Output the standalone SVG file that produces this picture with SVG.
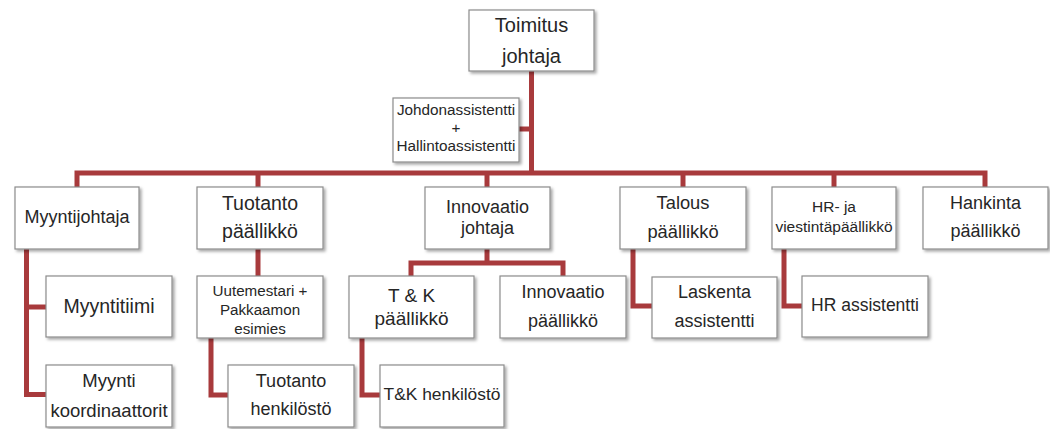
<svg xmlns="http://www.w3.org/2000/svg" width="1050" height="429" viewBox="0 0 1050 429">
<defs>
<filter id="sh" x="-10%" y="-10%" width="130%" height="140%">
<feDropShadow dx="2" dy="2" stdDeviation="1.5" flood-color="#000" flood-opacity="0.35"/>
</filter>
<style>
.box{fill:#fff;stroke:#8c8c8c;stroke-width:1.2;filter:url(#sh)}
.c{fill:none;stroke:#a83a3c;stroke-width:5;stroke-linejoin:miter;stroke-linecap:butt}
text{font-family:"Liberation Sans",Arial,sans-serif;fill:#262626;text-anchor:middle}
</style>
</defs>
<rect width="1050" height="429" fill="#fff"/>
<g id="connectors">
<path class="c" d="M531.5,71 V173"/>
<path class="c" d="M519,129 H531.5"/>
<path class="c" d="M77,187 V173 H985 V187"/>
<path class="c" d="M258,173 V187"/>
<path class="c" d="M487,173 V187"/>
<path class="c" d="M683,173 V187"/>
<path class="c" d="M834,173 V187"/>
<path class="c" d="M26.5,249 V394.5 H46"/>
<path class="c" d="M26.5,307 H46"/>
<path class="c" d="M258,249 V276"/>
<path class="c" d="M211,338 V395 H228"/>
<path class="c" d="M487,249 V263"/>
<path class="c" d="M411,276 V263 H563 V276"/>
<path class="c" d="M362,338 V395 H380"/>
<path class="c" d="M633,249 V306 H652"/>
<path class="c" d="M784,249 V306 H802"/>
</g>
<g id="toimitus">
<rect class="box" x="469" y="10" width="125" height="61"/>
<text x="531.5" y="32" font-size="20">Toimitus</text>
<text x="531.5" y="63" font-size="20">johtaja</text>
</g>
<g id="johdonassistentti">
<rect class="box" x="393" y="98" width="126" height="64"/>
<text x="456" y="115" font-size="15.3">Johdonassistentti</text>
<text x="456" y="133" font-size="15.3">+</text>
<text x="456" y="151" font-size="15.3">Hallintoassistentti</text>
</g>
<g id="myyntijohtaja">
<rect class="box" x="15" y="187" width="124" height="62"/>
<text x="77" y="223" font-size="18">Myyntijohtaja</text>
</g>
<g id="tuotantopaallikko">
<rect class="box" x="197" y="187" width="126" height="62"/>
<text x="260" y="210" font-size="19.5">Tuotanto</text>
<text x="260" y="238" font-size="19.5">päällikkö</text>
</g>
<g id="innovaatiojohtaja">
<rect class="box" x="425" y="187" width="125" height="62"/>
<text x="487.5" y="213" font-size="18">Innovaatio</text>
<text x="487.5" y="234" font-size="18">johtaja</text>
</g>
<g id="talous">
<rect class="box" x="620" y="187" width="126" height="62"/>
<text x="683" y="209" font-size="18.3">Talous</text>
<text x="683" y="238" font-size="18.3">päällikkö</text>
</g>
<g id="hr">
<rect class="box" x="772" y="187" width="124" height="62"/>
<text x="834" y="212" font-size="15.5">HR- ja</text>
<text x="834" y="232" font-size="15.5">viestintäpäällikkö</text>
</g>
<g id="hankinta">
<rect class="box" x="923" y="187" width="125" height="62"/>
<text x="985.5" y="209" font-size="18">Hankinta</text>
<text x="985.5" y="237" font-size="18">päällikkö</text>
</g>
<g id="myyntitiimi">
<rect class="box" x="46" y="276" width="126" height="61"/>
<text x="109" y="313" font-size="19.5">Myyntitiimi</text>
</g>
<g id="uutemestari">
<rect class="box" x="197" y="276" width="126" height="62"/>
<text x="260" y="296" font-size="15.2">Uutemestari +</text>
<text x="260" y="315" font-size="15.2">Pakkaamon</text>
<text x="260" y="334" font-size="15.2">esimies</text>
</g>
<g id="tkpaallikko">
<rect class="box" x="349" y="276" width="125" height="62"/>
<text x="411.5" y="302" font-size="19">T &amp; K</text>
<text x="411.5" y="325" font-size="19">päällikkö</text>
</g>
<g id="innovaatiopaallikko">
<rect class="box" x="500" y="276" width="126" height="62"/>
<text x="563" y="298" font-size="18">Innovaatio</text>
<text x="563" y="327" font-size="18">päällikkö</text>
</g>
<g id="laskenta">
<rect class="box" x="652" y="277" width="125" height="61"/>
<text x="714.5" y="298" font-size="18">Laskenta</text>
<text x="714.5" y="327" font-size="18">assistentti</text>
</g>
<g id="hrassistentti">
<rect class="box" x="802" y="276" width="126" height="61"/>
<text x="865" y="311" font-size="17.5">HR assistentti</text>
</g>
<g id="myyntikoordinaattorit">
<rect class="box" x="46" y="365" width="126" height="62"/>
<text x="109" y="387" font-size="18.5">Myynti</text>
<text x="109" y="417" font-size="18.5">koordinaattorit</text>
</g>
<g id="tuotantohenkilosto">
<rect class="box" x="228" y="365" width="126" height="62"/>
<text x="291" y="387" font-size="18">Tuotanto</text>
<text x="291" y="415" font-size="18">henkilöstö</text>
</g>
<g id="tkhenkilosto">
<rect class="box" x="380" y="365" width="124" height="62"/>
<text x="442" y="400" font-size="17.4">T&amp;K henkilöstö</text>
</g>
</svg>
